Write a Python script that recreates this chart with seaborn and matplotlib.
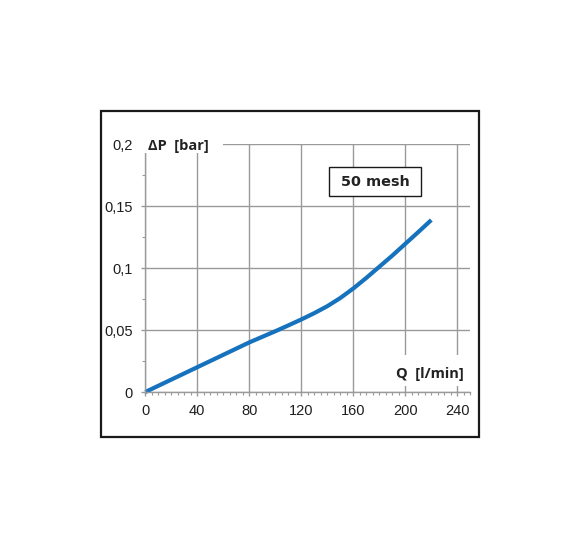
import matplotlib
matplotlib.use("Agg")
import matplotlib.pyplot as plt
import seaborn as sns
from matplotlib.patches import Rectangle
from matplotlib.ticker import MultipleLocator, FixedLocator, FixedFormatter

# ---- data ----
flow = [0, 20, 40, 60, 80, 100, 110, 120, 130, 140, 150, 160, 170, 180, 190, 200, 210, 220]
dp = [0.0, 0.010, 0.020, 0.030, 0.040, 0.049, 0.0537, 0.0585, 0.0636, 0.0692, 0.0758,
      0.0835, 0.092, 0.101, 0.110, 0.1195, 0.129, 0.1387]
xticks = [0, 40, 80, 120, 160, 200, 240]
xticklabels = ["0", "40", "80", "120", "160", "200", "240"]
yticks = [0, 0.05, 0.1, 0.15, 0.2]
yticklabels = ["0", "0,05", "0,1", "0,15", "0,2"]
ylabel = "ΔP  [bar]"
xlabel = "Q  [l/min]"
tag = "50 mesh"

sns.set_theme(style="white")
plt.rcParams["font.family"] = ["Liberation Sans", "DejaVu Sans"]

W, H = 581, 549
fig = plt.figure(figsize=(W / 100, H / 100), dpi=100)
fig.patch.set_facecolor("white")

x0, x1 = 145.3, 470.3
y0, y1 = 392.0, 144.0
ax = fig.add_axes([x0 / W, (H - y0) / H, (x1 - x0) / W, (y0 - y1) / H])
ax.set_facecolor("white")

gray = "#9a9a9a"
blue = "#1672bd"

sns.lineplot(x=flow, y=dp, ax=ax, color=blue, linewidth=3.0, sort=True)
for ln in ax.lines:
    ln.set_clip_on(False)
    ln.set_solid_capstyle("butt")
    ln.set_solid_joinstyle("round")

ax.set_xlim(0, 250)
ax.set_ylim(0, 0.2)
ax.set_axisbelow(True)

ax.xaxis.set_major_locator(FixedLocator(xticks))
ax.xaxis.set_major_formatter(FixedFormatter(xticklabels))
ax.yaxis.set_major_locator(FixedLocator(yticks))
ax.yaxis.set_major_formatter(FixedFormatter(yticklabels))
ax.xaxis.set_minor_locator(MultipleLocator(5))
ax.yaxis.set_minor_locator(MultipleLocator(0.025))

ax.grid(True, which="major", color=gray, linewidth=1.0)
for s in ["top", "right"]:
    ax.spines[s].set_visible(False)
for s in ["left", "bottom"]:
    ax.spines[s].set_color(gray)
    ax.spines[s].set_linewidth(1.0)

ax.tick_params(axis="both", which="major", direction="out", length=3.2, width=1.0,
               color=gray, labelsize=10.5, labelcolor="#1e1e1e")
ax.tick_params(axis="both", which="minor", direction="out", length=2.4, width=0.8,
               color=gray)
ax.tick_params(axis="x", which="major", pad=5.5, bottom=True)
ax.tick_params(axis="x", which="minor", bottom=True)
ax.tick_params(axis="y", which="major", pad=6, left=True)
ax.tick_params(axis="y", which="minor", left=True)
ax.set_xlabel("")
ax.set_ylabel("")

# white cut-outs behind axis titles
ax.add_patch(Rectangle((-5.5, 0.1927), 65.3, 0.02, transform=ax.transData,
                       facecolor="white", edgecolor="none", clip_on=False, zorder=3))
ax.add_patch(Rectangle((186, 0.0048), 66, 0.025, transform=ax.transData,
                       facecolor="white", edgecolor="none", clip_on=False, zorder=3))

bold_font = ["Open Sans", "DejaVu Sans"]
ax.text(2.0, 0.1952, ylabel, fontsize=10.5, fontweight="bold", family=bold_font,
        color="#222222", ha="left", va="baseline", zorder=4, clip_on=False)
ax.text(244.6, 0.0115, xlabel, fontsize=10.5, fontweight="bold", family=bold_font,
        color="#222222", ha="right", va="baseline", zorder=4, clip_on=False)

# "50 mesh" box
ax.add_patch(Rectangle((141.5, 0.1578), 70.8, 0.0239, transform=ax.transData,
                       facecolor="white", edgecolor="#1a1a1a", linewidth=1.0,
                       clip_on=False, zorder=3))
ax.text(176.9, 0.1696, tag, fontsize=10.4, fontweight="bold",
        family=["DejaVu Sans"],
        color="#222222", ha="center", va="center", zorder=4)

# outer frame
fig.add_artist(Rectangle((101 / W, 112 / H), 378 / W, 326 / H, transform=fig.transFigure,
                         fill=False, edgecolor="#1a1a1a", linewidth=1.6))

fig.savefig("out.png", dpi=100, facecolor="white")
